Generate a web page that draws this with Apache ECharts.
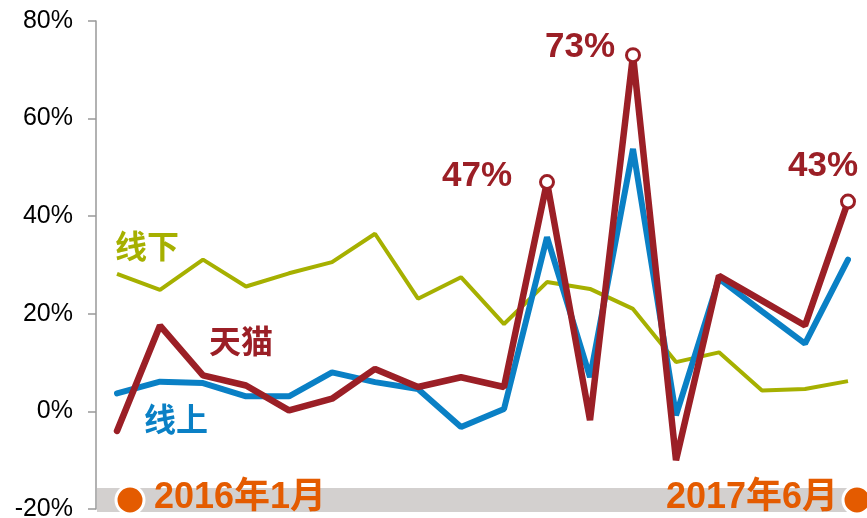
<!DOCTYPE html>
<html>
<head>
<meta charset="utf-8">
<script src="https://cdn.jsdelivr.net/npm/echarts@6/dist/echarts.min.js"></script>
<style>
html, body { margin: 0; padding: 0; background: #fff; }
#main { width: 867px; height: 518px; }
</style>
</head>
<body>
<div id="main"></div>
<script>
// 2016-01 .. 2017-06, monthly growth (%)
var months = ['2016-01','2016-02','2016-03','2016-04','2016-05','2016-06','2016-07','2016-08','2016-09',
              '2016-10','2016-11','2016-12','2017-01','2017-02','2017-03','2017-04','2017-05','2017-06'];
var tmall   = [-4, 17.6, 7.4, 5.3, 0.2, 2.6, 8.7, 5.0, 7.0, 5.0, 47, -1.8, 73, -10, 27.8, 22.7, 17.6, 43];
var online  = [3.7, 6.1, 5.8, 3.1, 3.1, 8.0, 6.0, 4.6, -3.2, 0.5, 35.7, 7.0, 53.8, -0.8, 27.2, 20.5, 13.9, 31.1];
var offline = [28.2, 24.9, 31.1, 25.6, 28.3, 30.6, 36.4, 23.1, 27.5, 17.9, 26.5, 25.1, 21.0, 10.1, 12.1, 4.3, 4.6, 6.2];
var yTicks = [-20, 0, 20, 40, 60, 80];
var startLabel = '2016年1月';
var endLabel = '2017年6月';

var RED = '#9b1f26', BLUE = '#0a80c5', GREEN = '#a6b000', ORANGE = '#e45b00';
var FONT = '"Liberation Sans", Arial, "Noto Sans CJK SC", sans-serif';
var CJK = 'bold 32px "Noto Sans CJK SC", sans-serif';

// which tmall points get a callout, and where its text sits
var callouts = { 10: [-70, -6], 12: [-53, -8], 17: [-25, -35] };

var tmallData = tmall.map(function (v, i) {
    if (callouts[i]) {
        return {
            value: v,
            symbol: 'circle',
            symbolSize: 13,
            itemStyle: { color: '#fff', borderColor: RED, borderWidth: 3 },
            label: {
                show: true,
                position: 'inside',
                offset: callouts[i],
                formatter: '{c}%',
                color: RED,
                fontSize: 35,
                fontWeight: 'bold',
                fontFamily: FONT
            }
        };
    }
    return { value: v, symbol: 'none' };
});

var myChart = echarts.init(document.getElementById('main'));
var option = {
    animation: false,
    grid: { left: 117, right: 19, top: 21, bottom: 9, outerBoundsMode: 'none' },
    xAxis: {
        type: 'category',
        data: months,
        boundaryGap: false,
        show: false
    },
    yAxis: {
        type: 'value',
        min: yTicks[0],
        max: yTicks[yTicks.length - 1],
        interval: 20,
        offset: 21,
        axisLine: { show: true, lineStyle: { color: '#999', width: 1.5 } },
        axisTick: { show: true, length: 8, lineStyle: { color: '#999', width: 1.5 } },
        splitLine: { show: false },
        axisLabel: {
            formatter: '{value}%',
            color: '#000',
            fontSize: 25,
            margin: 23,
            fontFamily: FONT
        }
    },
    graphic: [
        { type: 'rect', z: 0, shape: { x: 97, y: 488, width: 770, height: 24 }, style: { fill: '#d3d0cf' } },
        { type: 'circle', z: 1, shape: { cx: 130, cy: 500, r: 14 }, style: { fill: ORANGE, stroke: '#fff', lineWidth: 3 } },
        { type: 'circle', z: 1, shape: { cx: 857, cy: 500, r: 14 }, style: { fill: ORANGE, stroke: '#fff', lineWidth: 3 } },
        { type: 'text', z: 1, style: { text: startLabel, x: 154, y: 498, verticalAlign: 'middle', fill: ORANGE,
            font: 'bold 36px ' + FONT } },
        { type: 'text', z: 1, style: { text: endLabel, x: 838, y: 498, align: 'right', verticalAlign: 'middle', fill: ORANGE,
            font: 'bold 36px ' + FONT } },
        { type: 'text', z: 1, style: { text: '线下', x: 147, y: 246, align: 'center', verticalAlign: 'middle', fill: GREEN, font: CJK } },
        { type: 'text', z: 1, style: { text: '天猫', x: 241, y: 341, align: 'center', verticalAlign: 'middle', fill: RED, font: CJK } },
        { type: 'text', z: 1, style: { text: '线上', x: 176, y: 419, align: 'center', verticalAlign: 'middle', fill: BLUE, font: CJK } }
    ],
    series: [
        {
            name: '线下',
            type: 'line',
            data: offline,
            showSymbol: false,
            z: 2,
            lineStyle: { color: GREEN, width: 4 }
        },
        {
            name: '线上',
            type: 'line',
            data: online,
            showSymbol: false,
            z: 3,
            lineStyle: { color: BLUE, width: 6, cap: 'round' }
        },
        {
            name: '天猫',
            type: 'line',
            data: tmallData,
            z: 4,
            lineStyle: { color: RED, width: 6.5, cap: 'round' },
            itemStyle: { color: RED }
        }
    ]
};
myChart.setOption(option);
</script>
</body>
</html>
